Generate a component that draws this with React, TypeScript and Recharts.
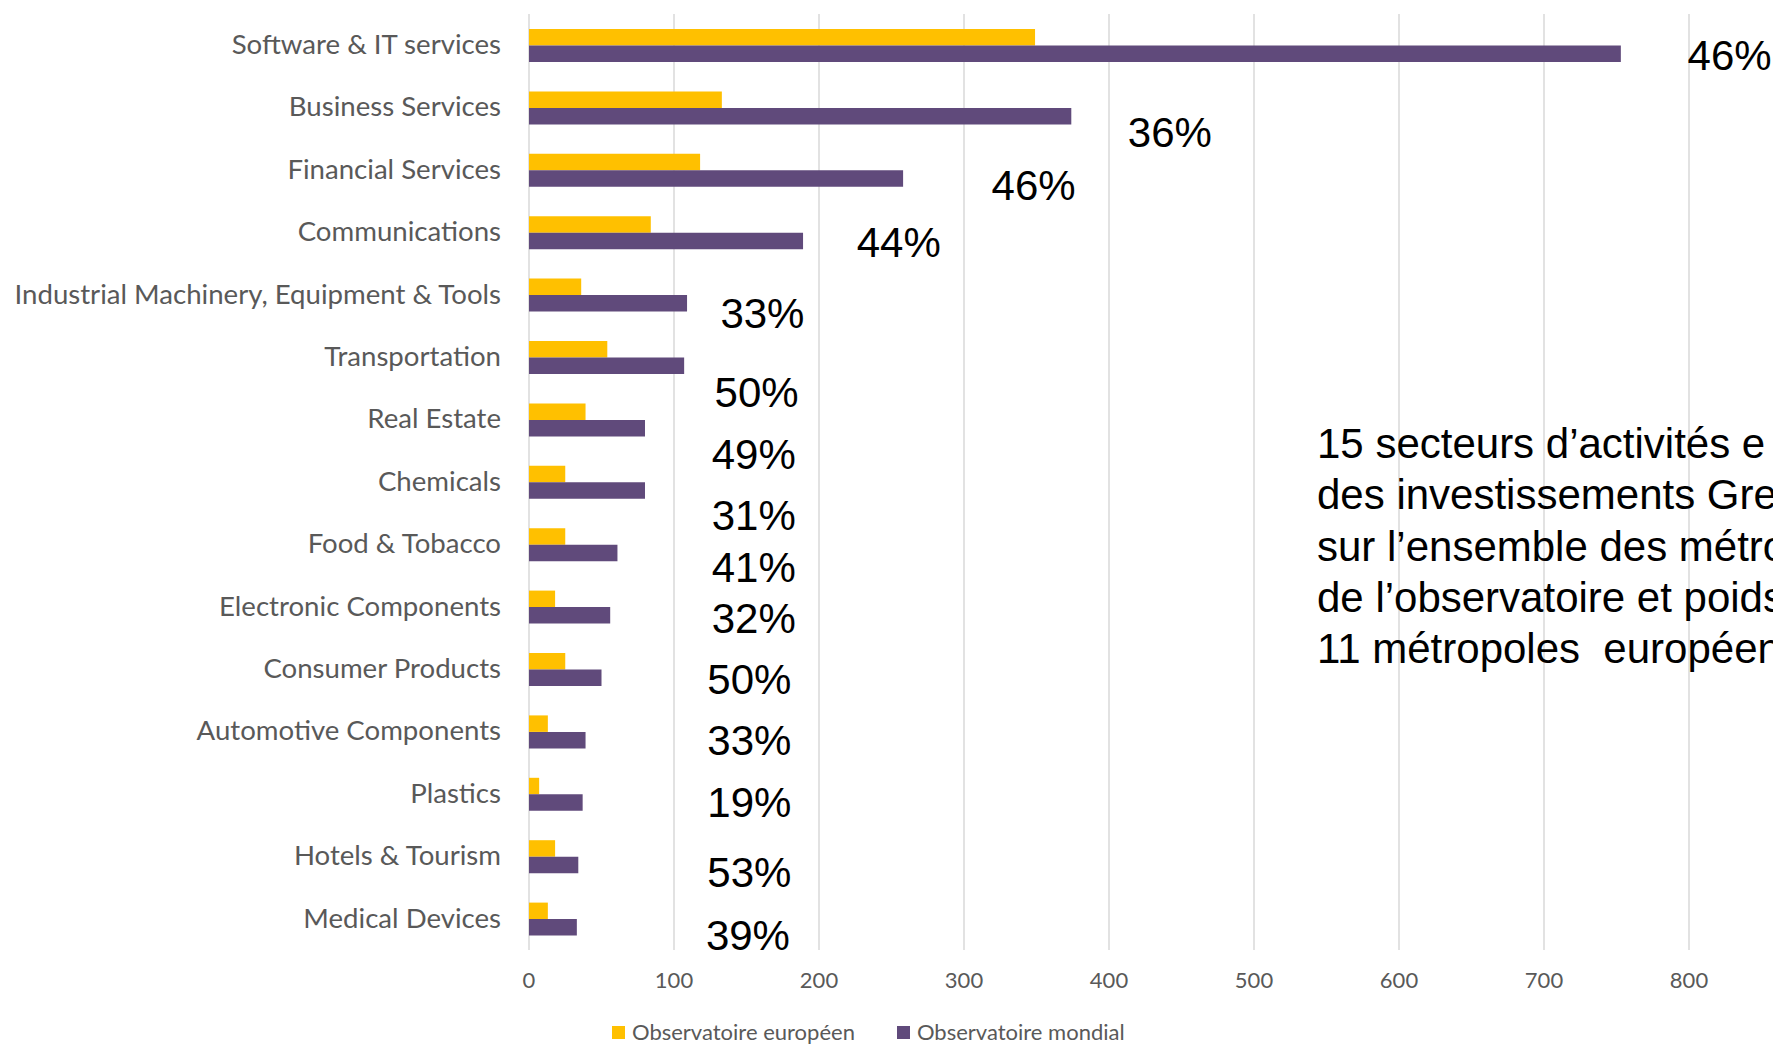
import React from "react";
import { ComposedChart, Bar, XAxis, YAxis, CartesianGrid, Legend, LabelList } from "recharts";

// ---------- data ----------
const categories = [
  "Software & IT services",
  "Business Services",
  "Financial Services",
  "Communications",
  "Industrial Machinery, Equipment & Tools",
  "Transportation",
  "Real Estate",
  "Chemicals",
  "Food & Tobacco",
  "Electronic Components",
  "Consumer Products",
  "Automotive Components",
  "Plastics",
  "Hotels & Tourism",
  "Medical Devices",
];
const europeen = [349, 133, 118, 84, 36, 54, 39, 25, 25, 18, 25, 13, 7, 18, 13];
const mondial = [753, 374, 258, 189, 109, 107, 80, 80, 61, 56, 50, 39, 37, 34, 33];
const shareLabels = ["46%", "36%", "46%", "44%", "33%", "50%", "49%", "31%", "41%", "32%", "50%", "33%", "19%", "53%", "39%"];
const xTicks = [0, 100, 200, 300, 400, 500, 600, 700, 800];
const seriesNames = ["Observatoire européen", "Observatoire mondial"];

// where each share annotation sits (axis units along x, fraction of a row below the row centre)
const labelAtValue = [799, 413, 319, 226, 132, 128, 126, 126, 126, 126, 123, 123, 123, 123, 122];
const labelRowShift = [0.16, 0.39, 0.24, 0.15, 0.29, 0.55, 0.54, 0.52, 0.35, 0.18, 0.15, 0.13, 0.13, 0.25, 0.26];

// the note as it is visible in the picture (it runs past the right edge)
const noteLines = [
  "15 secteurs d’activités e",
  "des investissements Gre",
  "sur l’ensemble des métro",
  "de l’observatoire et poids",
  "11 métropoles  européen",
];

const rows = categories.map((name, i) => ({ name, europeen: europeen[i], mondial: mondial[i] }));

// ---------- layout ----------
const W = 1773;
const H = 1045;
const MARGIN = { top: 14, right: 84, left: 0, bottom: 0 };
const Y_AXIS_W = 529;
const X_AXIS_H = 45;
const LEGEND_H = 50;
const PLOT_H = H - MARGIN.top - X_AXIS_H - LEGEND_H;
const BAND = PLOT_H / categories.length;

const YELLOW = "#FFC000";
const PURPLE = "#604A7B";
const TEXT = "#595959";
const FONT = "Lato, 'Open Sans', sans-serif";

const ShareLabel = (props: any) => {
  const vb = props.viewBox || props;
  const i: number = props.index ?? 0;
  const x = Number(vb.x);
  const y = Number(vb.y);
  const width = Number(vb.width);
  const v = mondial[i];
  const unit = width / v;
  const tx = x + labelAtValue[i] * unit;
  const cy = y + labelRowShift[i] * BAND;
  return (
    <text x={tx} y={cy + 15} fontFamily="'Liberation Sans', Arial, sans-serif" fontSize={42} fill="#000000">
      {shareLabels[i]}
    </text>
  );
};

const LegendContent = () => (
  <div
    style={{
      height: LEGEND_H,
      display: "flex",
      alignItems: "flex-start",
      paddingTop: 26,
      paddingLeft: 612,
      boxSizing: "border-box",
      fontFamily: FONT,
      fontSize: 22,
      color: TEXT,
      lineHeight: "22px",
    }}
  >
    {seriesNames.map((n, i) => (
      <div key={n} style={{ display: "flex", alignItems: "center", marginRight: i === 0 ? 42 : 0 }}>
        <span style={{ width: 13, height: 13, background: i === 0 ? YELLOW : PURPLE, display: "inline-block", marginRight: 7 }} />
        <span>{n}</span>
      </div>
    ))}
  </div>
);

export default function App() {
  return (
    <div style={{ position: "relative", width: W, height: H, overflow: "hidden", background: "#fff" }}>
      <style>{"body{margin:0;overflow:hidden;}"}</style>
      <ComposedChart width={W} height={H} data={rows} layout="vertical" margin={MARGIN} barGap={0}>
        <CartesianGrid horizontal={false} stroke="#D9D9D9" strokeWidth={1.5} />
        <XAxis
          type="number"
          domain={[0, 800]}
          ticks={xTicks}
          axisLine={false}
          tickLine={false}
          tickSize={0}
          tickMargin={22}
          height={X_AXIS_H}
          tick={{ fill: TEXT, fontSize: 22, fontFamily: FONT }}
          interval={0}
        />
        <YAxis
          type="category"
          dataKey="name"
          width={Y_AXIS_W}
          axisLine={false}
          tickLine={false}
          tickSize={0}
          tickMargin={28}
          interval={0}
          tick={{ fill: TEXT, fontSize: 27.6, fontFamily: FONT, dy: -1 }}
        />
        <Legend verticalAlign="bottom" height={LEGEND_H} content={<LegendContent />} />
        <Bar dataKey="europeen" name={seriesNames[0]} fill={YELLOW} barSize={16.5} isAnimationActive={false} />
        <Bar dataKey="mondial" name={seriesNames[1]} fill={PURPLE} barSize={16.5} isAnimationActive={false}>
          <LabelList dataKey="mondial" content={<ShareLabel />} />
        </Bar>
      </ComposedChart>
      <svg width={W} height={H} style={{ position: "absolute", left: 0, top: 0, pointerEvents: "none" }}>
        <text fontFamily="'Liberation Sans', Arial, sans-serif" fontSize={42} fill="#000000">
          {noteLines.map((line, i) => (
            <tspan key={i} x={1317} y={458 + i * 51.3} style={{ whiteSpace: "pre" }}>
              {line}
            </tspan>
          ))}
        </text>
      </svg>
    </div>
  );
}
